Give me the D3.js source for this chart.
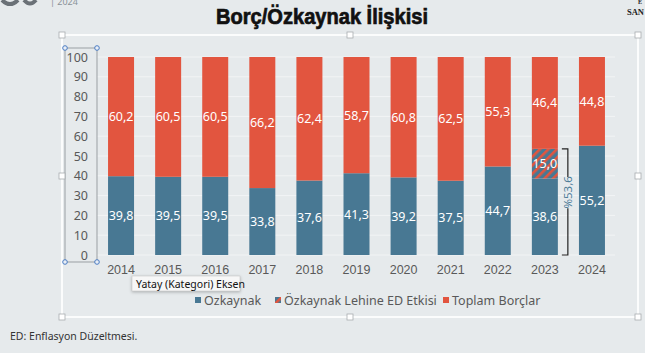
<!DOCTYPE html>
<html>
<head>
<meta charset="utf-8">
<script src="https://cdn.jsdelivr.net/npm/d3@7"></script>
<style>
  body { margin: 0; background: #e6eaec; }
  svg { display: block; font-family: "Noto Sans", "Open Sans", sans-serif; }
</style>
</head>
<body>
<div id="chart"></div>
<script>
// chart values
const years = ["2014", "2015", "2016", "2017", "2018", "2019", "2020", "2021", "2022", "2023", "2024"];
const equity = [39.8, 39.5, 39.5, 33.8, 37.6, 41.3, 39.2, 37.5, 44.7, 38.6, 55.2];
const edEffect = [0, 0, 0, 0, 0, 0, 0, 0, 0, 15.0, 0];
const totalDebt = [60.2, 60.5, 60.5, 66.2, 62.4, 58.7, 60.8, 62.5, 55.3, 46.4, 44.8];
const yTicks = [0, 10, 20, 30, 40, 50, 60, 70, 80, 90, 100];
const legendNames = ["Ozkaynak", "Özkaynak Lehine ED Etkisi", "Toplam Borçlar"];
const bracketLabel = "%53,6";

const blue = "#487893", red = "#e2553f";
const W = 645, H = 353;

const svg = d3.select("#chart").append("svg")
    .attr("width", W).attr("height", H);

// hatch pattern for the ED effect
const defs = svg.append("defs");
const pat = defs.append("pattern")
    .attr("id", "hatch")
    .attr("patternUnits", "userSpaceOnUse")
    .attr("width", 6).attr("height", 6)
    .attr("patternTransform", "rotate(45)");
pat.append("rect").attr("width", 6).attr("height", 6).attr("fill", blue);
pat.append("rect").attr("width", 2.6).attr("height", 6).attr("fill", red);

// title + page bits
svg.append("text")
    .attr("x", 322).attr("y", 24)
    .attr("text-anchor", "middle")
    .attr("font-family", "'Liberation Sans Narrow', 'Liberation Sans', sans-serif")
    .attr("font-weight", "bold")
    .attr("font-size", 22)
    .attr("textLength", 212).attr("lengthAdjust", "spacingAndGlyphs")
    .attr("fill", "#111").attr("stroke", "#111").attr("stroke-width", 0.7)
    .text("Borç/Özkaynak İlişkisi");

svg.append("text").attr("x", 50).attr("y", 5).attr("font-size", 9)
    .attr("fill", "#8a9298").text("| 2024");
svg.append("path").attr("d", "M2,0 Q10,8 18,0 M24,0 Q30,7 36,0")
    .attr("stroke", "#6b7177").attr("stroke-width", 4).attr("fill", "none");
svg.append("text").attr("x", 627).attr("y", 15).attr("font-size", 8.5)
    .attr("font-family", "'Liberation Serif', serif").attr("font-weight", "bold")
    .attr("fill", "#222").text("SAN");
svg.append("text").attr("x", 638).attr("y", 4).attr("font-size", 6)
    .attr("font-family", "'Liberation Serif', serif").attr("font-weight", "bold")
    .attr("fill", "#222").text("E");

// chart frame (selected)
const frame = { x0: 62, y0: 35, x1: 638, y1: 317 };
svg.append("rect")
    .attr("x", frame.x0).attr("y", frame.y0)
    .attr("width", frame.x1 - frame.x0).attr("height", frame.y1 - frame.y0)
    .attr("fill", "none").attr("stroke", "#fbfcfc").attr("stroke-width", 2);

// scales
const x = d3.scaleBand().domain(years).range([97.5, 615.5]).paddingInner(0.448).paddingOuter(0.224);
const y = d3.scaleLinear().domain([0, 100]).range([255, 57]);

// gridlines
svg.append("g").selectAll("line").data(yTicks).join("line")
    .attr("x1", 97).attr("x2", 615)
    .attr("y1", d => y(d)).attr("y2", d => y(d))
    .attr("stroke", "#f2f4f5").attr("stroke-width", 1);

// y axis
const yAxis = svg.append("g")
    .attr("transform", "translate(90,0)")
    .call(d3.axisLeft(y).tickValues(yTicks).tickSize(0).tickPadding(2));
yAxis.select(".domain").remove();
yAxis.selectAll("text").attr("font-size", 12.5).attr("fill", "#595959")
    .attr("font-family", "'Noto Sans', sans-serif");

// x axis
const xAxis = svg.append("g")
    .attr("transform", "translate(0,262)")
    .call(d3.axisBottom(x).tickSize(0).tickPadding(3));
xAxis.select(".domain").remove();
xAxis.selectAll("text").attr("font-size", 12.5).attr("fill", "#595959");

// stacked bars
const rows = years.map((yr, i) => ({ yr, eq: equity[i], ed: edEffect[i], debt: totalDebt[i] }));
const bars = svg.append("g");
bars.selectAll(".eq").data(rows).join("rect")
    .attr("x", d => x(d.yr)).attr("width", x.bandwidth())
    .attr("y", d => y(d.eq)).attr("height", d => y(0) - y(d.eq))
    .attr("fill", blue);
bars.selectAll(".ed").data(rows.filter(d => d.ed > 0)).join("rect")
    .attr("x", d => x(d.yr)).attr("width", x.bandwidth())
    .attr("y", d => y(d.eq + d.ed)).attr("height", d => y(d.eq) - y(d.eq + d.ed))
    .attr("fill", "url(#hatch)");
bars.selectAll(".debt").data(rows).join("rect")
    .attr("x", d => x(d.yr)).attr("width", x.bandwidth())
    .attr("y", d => y(d.eq + d.ed + d.debt)).attr("height", d => y(d.eq + d.ed) - y(d.eq + d.ed + d.debt))
    .attr("fill", red);

// value labels
const fmt = v => v.toFixed(1).replace(".", ",");
const labels = [];
rows.forEach(d => {
    labels.push({ yr: d.yr, v: d.eq, mid: d.eq / 2 });
    if (d.ed > 0) labels.push({ yr: d.yr, v: d.ed, mid: d.eq + d.ed / 2 });
    labels.push({ yr: d.yr, v: d.debt, mid: d.eq + d.ed + d.debt / 2 });
});
svg.append("g").selectAll("text").data(labels).join("text")
    .attr("x", d => x(d.yr) + x.bandwidth() / 2)
    .attr("y", d => y(d.mid))
    .attr("dy", "0.36em")
    .attr("text-anchor", "middle")
    .attr("font-size", 12.5)
    .attr("fill", "#fff")
    .text(d => fmt(d.v));

// bracket for 2023 equity incl. ED effect
const bx = x("2023") + x.bandwidth() + 10;
const topV = equity[9] + edEffect[9];
const br = svg.append("g").attr("stroke", "#222").attr("stroke-width", 1.2).attr("fill", "none");
br.append("path").attr("d", `M${bx - 6},${y(topV)}H${bx}V${y(topV * 0.735)}`);
br.append("path").attr("d", `M${bx},${y(topV * 0.44)}V${y(0)}H${bx - 6}`);
svg.append("text")
    .attr("transform", `translate(${bx + 4},${y(topV * 0.59)}) rotate(-90)`)
    .attr("text-anchor", "middle")
    .attr("font-size", 11.5)
    .attr("fill", "#4f7d99")
    .text(bracketLabel);

// y axis selection box
const sel = { x0: 65, y0: 48, x1: 97, y1: 262 };
svg.append("rect")
    .attr("x", sel.x0).attr("y", sel.y0)
    .attr("width", sel.x1 - sel.x0).attr("height", sel.y1 - sel.y0)
    .attr("fill", "none").attr("stroke", "#9a9fa3").attr("stroke-width", 1);
svg.append("g").selectAll("circle")
    .data([[sel.x0, sel.y0], [sel.x1, sel.y0], [sel.x0, sel.y1], [sel.x1, sel.y1]])
    .join("circle")
    .attr("cx", d => d[0]).attr("cy", d => d[1]).attr("r", 2.3)
    .attr("fill", "#e9eef5").attr("stroke", "#4a7cc4").attr("stroke-width", 1);

// frame handles
const mx = 350, my = 176;
svg.append("g").selectAll("rect")
    .data([[frame.x0, frame.y0], [mx, frame.y0], [frame.x1, frame.y0],
           [frame.x0, my], [frame.x1, my],
           [frame.x0, frame.y1], [mx, frame.y1], [frame.x1, frame.y1]])
    .join("rect")
    .attr("x", d => d[0] - 3).attr("y", d => d[1] - 3)
    .attr("width", 6).attr("height", 6)
    .attr("fill", "#fff").attr("stroke", "#a9adb0").attr("stroke-width", 0.8);

// legend
const legendX = [195, 275, 443];
const lg = svg.append("g");
legendNames.forEach((name, i) => {
    lg.append("rect").attr("x", legendX[i]).attr("y", 297)
        .attr("width", 6).attr("height", 6).attr("fill", i === 1 ? "url(#hatch)" : (i === 0 ? blue : red));
    lg.append("text").attr("x", legendX[i] + 9).attr("y", 305)
        .attr("font-size", 12.5).attr("fill", "#595959").text(name);
});

// hover tooltip that was on screen
const tip = svg.append("g").attr("transform", "translate(132,276)");
tip.append("rect").attr("width", 108).attr("height", 15)
    .attr("fill", "#f7f7f7").attr("stroke", "#c9c9c9").attr("stroke-width", 0.6)
    .style("filter", "drop-shadow(0px 1px 1.5px rgba(0,0,0,0.25))");
tip.append("text").attr("x", 4).attr("y", 11.5).attr("font-size", 10.5)
    .attr("fill", "#111").text("Yatay (Kategori) Eksen");

// note
svg.append("text").attr("x", 10).attr("y", 340)
    .attr("font-size", 10.5).attr("fill", "#333")
    .text("ED: Enflasyon Düzeltmesi.");
</script>
</body>
</html>
